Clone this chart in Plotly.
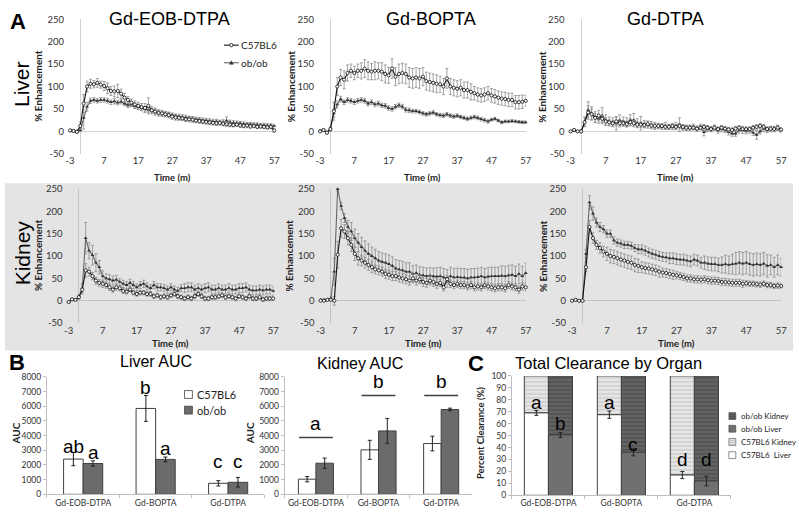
import plotly.graph_objects as go

W, H = 799, 514
def fx(p): return p / W
def fy(p): return 1 - p / H

# ---------------- data ----------------
time_min = list(range(-3, 58))
time_ticks = [-3, 7, 17, 27, 37, 47, 57]
enh_ticks = [-50, 0, 50, 100, 150, 200, 250]
agents = ["Gd-EOB-DTPA", "Gd-BOPTA", "Gd-DTPA"]

# Liver, Gd-EOB-DTPA
liver_eob_c57 = [2, 1, -1, 12, 62, 100, 106, 105, 108, 104,
                 101, 96, 90, 89, 90, 84, 75, 70, 64, 60,
                 57, 54, 52, 57, 47, 44, 41, 40, 38, 36,
                 33, 31, 30, 29, 27, 27, 26, 24, 23, 22,
                 21, 20, 19, 18, 19, 17, 16, 15, 14, 15,
                 13, 12, 13, 11, 12, 10, 11, 10, 9, 10,
                 2]
liver_eob_c57_err = [3, 3, 3, 8, 20, 12, 10, 8, 10, 8,
                     10, 12, 10, 12, 15, 10, 10, 8, 8, 8,
                     8, 8, 10, 18, 8, 8, 7, 7, 6, 6,
                     6, 6, 6, 5, 5, 6, 6, 5, 5, 5,
                     5, 5, 5, 5, 5, 5, 5, 5, 4, 4,
                     4, 4, 5, 4, 4, 4, 4, 4, 4, 4,
                     4]
liver_eob_ob = [1, 1, 0, 3, 30, 55, 68, 70, 68, 70,
                70, 68, 65, 67, 64, 66, 62, 58, 60, 56,
                54, 52, 50, 48, 46, 44, 42, 40, 39, 38,
                36, 34, 33, 32, 31, 29, 28, 27, 26, 25,
                24, 23, 22, 22, 20, 21, 24, 20, 19, 18,
                18, 17, 16, 16, 15, 15, 14, 14, 13, 13,
                12]
liver_eob_ob_err = [2, 2, 2, 4, 25, 10, 6, 5, 5, 5,
                    5, 5, 5, 6, 5, 5, 5, 5, 5, 5,
                    5, 5, 5, 5, 5, 5, 5, 5, 5, 5,
                    5, 5, 5, 5, 5, 5, 5, 5, 5, 5,
                    5, 5, 5, 5, 5, 5, 8, 5, 5, 5,
                    4, 4, 4, 4, 4, 4, 4, 4, 4, 4,
                    4]

# Liver, Gd-BOPTA
liver_bopta_c57 = [0, 3, -3, 5, 45, 100, 120, 115, 130, 135,
                   130, 135, 135, 140, 135, 133, 135, 135, 133, 128,
                   125, 140, 122, 128, 130, 128, 120, 118, 120, 118,
                   122, 112, 110, 108, 106, 105, 100, 118, 100, 97,
                   95, 97, 92, 92, 88, 85, 82, 80, 82, 85,
                   80, 78, 75, 73, 72, 70, 70, 65, 65, 66,
                   68]
liver_bopta_c57_err = [3, 3, 3, 5, 20, 20, 18, 20, 18, 15,
                       15, 15, 18, 20, 20, 18, 20, 18, 20, 20,
                       18, 22, 20, 22, 22, 22, 22, 22, 22, 22,
                       20, 20, 20, 20, 20, 18, 18, 22, 18, 18,
                       18, 18, 18, 18, 18, 15, 15, 15, 15, 15,
                       15, 15, 15, 15, 15, 15, 15, 15, 15, 15,
                       12]
liver_bopta_ob = [2, 2, -2, 5, 40, 60, 72, 65, 70, 68,
                  65, 68, 70, 68, 62, 65, 60, 62, 58, 57,
                  52, 50, 55, 58, 55, 48, 47, 45, 45, 43,
                  40, 38, 40, 42, 38, 36, 35, 38, 35, 33,
                  35, 32, 30, 28, 30, 32, 30, 27, 25, 22,
                  26, 28, 24, 20, 22, 22, 23, 22, 21, 20,
                  20]
liver_bopta_ob_err = [2, 2, 2, 3, 8, 8, 6, 5, 5, 5,
                      5, 5, 5, 5, 5, 5, 5, 5, 5, 5,
                      5, 5, 5, 5, 5, 5, 5, 4, 4, 4,
                      4, 4, 4, 4, 4, 4, 4, 4, 4, 4,
                      4, 4, 4, 4, 4, 4, 4, 4, 4, 4,
                      3, 3, 3, 3, 3, 3, 3, 3, 3, 3,
                      3]

# Liver, Gd-DTPA
liver_dtpa_c57 = [0, 3, 0, 0, 20, 42, 38, 30, 35, 28,
                  22, 20, 18, 22, 18, 18, 16, 20, 18, 15,
                  15, 14, 16, 13, 12, 12, 12, 10, 10, 12,
                  10, 12, 10, 8, 8, 8, 6, 8, 10, 8,
                  5, 8, 5, 8, 6, 4, 3, 6, 8, 5,
                  5, 5, 8, 10, 12, 10, 5, 6, 5, 8,
                  4]
liver_dtpa_c57_err = [2, 2, 2, 3, 10, 15, 12, 10, 12, 8,
                      8, 6, 6, 10, 8, 6, 6, 8, 6, 6,
                      6, 6, 6, 5, 5, 5, 5, 5, 5, 5,
                      5, 5, 5, 5, 5, 5, 5, 5, 5, 5,
                      5, 5, 5, 5, 5, 5, 5, 5, 5, 5,
                      5, 5, 5, 5, 5, 5, 5, 5, 5, 5,
                      4]
liver_dtpa_ob = [0, 2, 0, 0, 22, 48, 40, 32, 28, 35,
                 25, 22, 20, 18, 25, 22, 20, 25, 25, 18,
                 18, 16, 15, 14, 12, 12, 10, 12, 10, 10,
                 12, 15, 8, 8, 8, 10, 6, 10, -2, 5,
                 5, 8, 2, 5, 3, -2, -5, -5, 2, 3,
                 0, 2, -3, -8, 0, 5, 3, 5, 5, 8,
                 2]
liver_dtpa_ob_err = [2, 2, 2, 3, 10, 18, 15, 12, 10, 18,
                     12, 10, 10, 15, 12, 10, 10, 12, 15, 10,
                     15, 8, 8, 8, 8, 6, 6, 8, 6, 6,
                     8, 15, 6, 6, 6, 6, 6, 6, 8, 6,
                     6, 6, 6, 6, 6, 6, 6, 6, 6, 8,
                     6, 6, 6, 10, 6, 6, 6, 6, 6, 6,
                     5]

# Kidney, Gd-EOB-DTPA
kidney_eob_c57 = [-3, 3, 2, 8, 25, 68, 65, 55, 45, 40,
                  38, 35, 30, 25, 30, 28, 22, 20, 25, 18,
                  15, 18, 18, 15, 15, 10, 12, 8, 10, 8,
                  12, 15, 10, 8, 5, 8, 5, 10, 15, 10,
                  5, 5, 8, 8, 10, 12, 8, 10, 8, 5,
                  10, 8, 5, 10, 5, 5, 8, 3, 5, 5,
                  5]
kidney_eob_c57_err = [2, 2, 2, 4, 10, 15, 10, 8, 8, 8,
                      8, 7, 7, 6, 6, 6, 6, 5, 5, 5,
                      5, 5, 5, 5, 5, 5, 5, 5, 5, 5,
                      5, 5, 5, 5, 5, 5, 5, 5, 5, 5,
                      5, 5, 5, 5, 5, 5, 5, 5, 5, 5,
                      5, 5, 5, 5, 5, 5, 5, 5, 5, 5,
                      5]
kidney_eob_ob = [-3, 3, 2, 8, 28, 140, 112, 102, 85, 75,
                 55, 50, 48, 45, 47, 42, 38, 35, 40, 35,
                 30, 35, 38, 32, 28, 35, 30, 30, 28, 25,
                 30, 25, 22, 28, 28, 30, 30, 25, 28, 25,
                 28, 30, 25, 25, 28, 25, 25, 28, 25, 25,
                 28, 28, 30, 25, 23, 23, 25, 23, 25, 25,
                 22]
kidney_eob_ob_err = [2, 2, 2, 4, 10, 35, 18, 22, 20, 15,
                     12, 10, 10, 10, 10, 8, 8, 8, 8, 8,
                     8, 8, 8, 8, 8, 8, 8, 8, 8, 8,
                     8, 8, 8, 8, 10, 10, 10, 10, 10, 10,
                     10, 10, 10, 10, 10, 10, 10, 10, 10, 10,
                     10, 10, 10, 10, 10, 10, 10, 10, 10, 10,
                     10]

# Kidney, Gd-BOPTA
kidney_bopta_c57 = [0, 0, 2, 2, 0, 103, 162, 155, 140, 125,
                    105, 95, 90, 85, 80, 75, 70, 68, 65, 60,
                    58, 55, 55, 52, 50, 48, 45, 50, 45, 48,
                    42, 40, 45, 42, 38, 40, 30, 48, 38, 35,
                    38, 35, 35, 32, 35, 30, 32, 30, 35, 32,
                    30, 28, 30, 30, 28, 35, 32, 30, 25, 32,
                    30]
kidney_bopta_c57_err = [2, 2, 2, 2, 10, 30, 20, 15, 15, 15,
                        15, 15, 12, 12, 12, 12, 10, 10, 10, 10,
                        10, 10, 10, 10, 10, 10, 10, 10, 10, 10,
                        10, 10, 10, 10, 10, 8, 8, 8, 8, 8,
                        8, 8, 8, 8, 8, 8, 8, 8, 8, 8,
                        8, 8, 8, 8, 8, 8, 8, 8, 8, 8,
                        8]
kidney_bopta_ob = [2, 2, 3, 5, 65, 250, 212, 185, 165, 155,
                   140, 130, 120, 112, 105, 100, 95, 90, 87, 85,
                   82, 78, 72, 70, 68, 65, 65, 60, 62, 58,
                   57, 55, 56, 55, 54, 55, 52, 50, 55, 52,
                   53, 52, 52, 50, 52, 52, 53, 55, 52, 54,
                   55, 55, 55, 56, 55, 57, 58, 55, 60, 55,
                   62]
kidney_bopta_ob_err = [2, 2, 2, 3, 30, 5, 8, 10, 15, 20,
                       20, 20, 22, 22, 22, 20, 20, 20, 20, 20,
                       20, 20, 20, 20, 20, 20, 20, 18, 18, 18,
                       18, 18, 18, 18, 20, 20, 20, 20, 20, 20,
                       20, 20, 20, 20, 20, 20, 20, 20, 20, 20,
                       20, 20, 20, 22, 22, 22, 22, 22, 22, 22,
                       22]

# Kidney, Gd-DTPA
kidney_dtpa_c57 = [0, 2, 0, 0, 75, 165, 140, 125, 118, 110,
                   105, 100, 98, 95, 92, 90, 87, 85, 80, 78,
                   75, 73, 72, 70, 68, 65, 63, 62, 60, 58,
                   57, 55, 53, 50, 50, 48, 48, 47, 48, 46,
                   45, 45, 44, 42, 42, 41, 40, 40, 40, 38,
                   39, 38, 38, 37, 36, 38, 35, 35, 33, 34,
                   33]
kidney_dtpa_c57_err = [2, 2, 2, 2, 10, 15, 12, 10, 12, 12,
                       15, 15, 15, 15, 15, 15, 15, 15, 15, 15,
                       12, 12, 12, 12, 12, 12, 10, 10, 10, 10,
                       8, 8, 8, 8, 8, 8, 8, 8, 8, 8,
                       8, 8, 8, 8, 8, 8, 8, 8, 8, 8,
                       6, 6, 6, 6, 6, 6, 6, 6, 6, 6,
                       6]
kidney_dtpa_ob = [0, 2, 0, 0, 105, 220, 195, 175, 165, 160,
                  150, 150, 135, 130, 128, 125, 125, 123, 118, 115,
                  115, 112, 108, 105, 103, 100, 98, 97, 95, 95,
                  93, 92, 92, 90, 88, 92, 90, 85, 85, 83,
                  82, 82, 80, 80, 82, 80, 82, 83, 85, 83,
                  85, 82, 80, 82, 80, 83, 78, 80, 75, 80,
                  75]
kidney_dtpa_ob_err = [2, 2, 2, 2, 10, 15, 15, 10, 10, 8,
                      8, 8, 8, 8, 8, 8, 8, 8, 8, 10,
                      10, 10, 10, 10, 10, 10, 10, 10, 12, 12,
                      12, 12, 12, 12, 12, 12, 12, 12, 15, 15,
                      15, 15, 15, 18, 20, 20, 22, 25, 25, 25,
                      25, 25, 25, 25, 25, 25, 25, 22, 22, 22,
                      20]

# B: AUC
liver_auc_c57 = [2400, 5850, 750]
liver_auc_c57_err = [450, 880, 180]
liver_auc_ob = [2100, 2380, 820]
liver_auc_ob_err = [180, 160, 330]
liver_auc_letters_c57 = ["ab", "b", "c"]
liver_auc_letters_ob = ["a", "a", "c"]
liver_auc_letter_y_c57 = [3280, 7250, 2250]
liver_auc_letter_y_ob = [2830, 3150, 2250]

kidney_auc_c57 = [1030, 3030, 3460]
kidney_auc_c57_err = [180, 650, 500]
kidney_auc_ob = [2120, 4320, 5780]
kidney_auc_ob_err = [350, 850, 90]
kidney_auc_letters = ["a", "b", "b"]
kidney_auc_line_y = [3870, 6730, 6730]
kidney_auc_letter_y = [4820, 7700, 7700]

# C: total clearance (%)
c57_liver_pct = [69, 67.5, 17]
c57_liver_pct_err = [2, 3, 3]
c57_kidney_pct = [31, 32.5, 83]
ob_liver_pct = [50.5, 36, 12]
ob_liver_pct_err = [2, 3, 4]
ob_kidney_pct = [49.5, 64, 88]
clear_letters_c57 = ["a", "a", "d"]
clear_letters_ob = ["b", "c", "d"]
clear_letter_y_c57 = [78, 78, 30]
clear_letter_y_ob = [60, 42.5, 30]

# ---------------- figure ----------------
TICKF = "Lato, 'Open Sans', sans-serif"
ARIAL = "'Liberation Sans', Arial, sans-serif"

C57_LINE = "#111111"
OB_LINE = "#666666"
OB_MARK = "#333333"
ERR_TS = "#8c8c8c"
BAR_EDGE = "#404040"
OB_BAR = "#6b6b6b"
C57_KID_BG, C57_KID_FG = "#e6e6e6", "#bdbdbd"
OB_KID_BG, OB_KID_FG = "#636363", "#474747"
OB_LIV = "#707070"

fig = go.Figure()

ts_panels = [
    (1, liver_eob_c57, liver_eob_c57_err, liver_eob_ob, liver_eob_ob_err),
    (2, liver_bopta_c57, liver_bopta_c57_err, liver_bopta_ob, liver_bopta_ob_err),
    (3, liver_dtpa_c57, liver_dtpa_c57_err, liver_dtpa_ob, liver_dtpa_ob_err),
    (4, kidney_eob_c57, kidney_eob_c57_err, kidney_eob_ob, kidney_eob_ob_err),
    (5, kidney_bopta_c57, kidney_bopta_c57_err, kidney_bopta_ob, kidney_bopta_ob_err),
    (6, kidney_dtpa_c57, kidney_dtpa_c57_err, kidney_dtpa_ob, kidney_dtpa_ob_err),
]

def ax(i):
    return ("x" if i == 1 else f"x{i}"), ("y" if i == 1 else f"y{i}")

for i, c57, c57e, ob, obe in ts_panels:
    xa, ya = ax(i)
    fig.add_trace(go.Scatter(
        x=time_min, y=ob, xaxis=xa, yaxis=ya, name="ob/ob",
        mode="lines+markers", showlegend=False,
        line=dict(color=OB_LINE, width=1.1),
        marker=dict(symbol="triangle-up", size=3.5, color=OB_MARK),
        error_y=dict(type="data", array=obe, color=ERR_TS, thickness=0.8, width=1.5),
        cliponaxis=False))
    fig.add_trace(go.Scatter(
        x=time_min, y=c57, xaxis=xa, yaxis=ya, name="C57BL6",
        mode="lines+markers", showlegend=False,
        line=dict(color=C57_LINE, width=1.1),
        marker=dict(symbol="circle", size=3.2, color="white",
                    line=dict(color=C57_LINE, width=0.8)),
        error_y=dict(type="data", array=c57e, color=ERR_TS, thickness=0.8, width=1.5),
        cliponaxis=False))

err_b = dict(type="data", color="#222", thickness=1, width=2)
# B liver AUC
fig.add_trace(go.Bar(x=agents, y=liver_auc_c57, name="C57BL6", xaxis="x7", yaxis="y7",
                     offset=-0.27, width=0.27, showlegend=False,
                     marker=dict(color="white", line=dict(color=BAR_EDGE, width=1)),
                     error_y=dict(array=liver_auc_c57_err, **err_b)))
fig.add_trace(go.Bar(x=agents, y=liver_auc_ob, name="ob/ob", xaxis="x7", yaxis="y7",
                     offset=0, width=0.27, showlegend=False,
                     marker=dict(color=OB_BAR, line=dict(color=BAR_EDGE, width=1)),
                     error_y=dict(array=liver_auc_ob_err, **err_b)))
# B kidney AUC
fig.add_trace(go.Bar(x=agents, y=kidney_auc_c57, name="C57BL6", xaxis="x8", yaxis="y8",
                     offset=-0.28, width=0.28, showlegend=False,
                     marker=dict(color="white", line=dict(color=BAR_EDGE, width=1)),
                     error_y=dict(array=kidney_auc_c57_err, **err_b)))
fig.add_trace(go.Bar(x=agents, y=kidney_auc_ob, name="ob/ob", xaxis="x8", yaxis="y8",
                     offset=0, width=0.28, showlegend=False,
                     marker=dict(color=OB_BAR, line=dict(color=BAR_EDGE, width=1)),
                     error_y=dict(array=kidney_auc_ob_err, **err_b)))

# C total clearance
fig.add_trace(go.Bar(x=agents, y=c57_kidney_pct, base=c57_liver_pct, name="C57BL6 Kidney",
                     xaxis="x9", yaxis="y9", offset=-0.33, width=0.33, showlegend=False,
                     marker=dict(color=C57_KID_BG, line=dict(color=BAR_EDGE, width=1),
                                 pattern=dict(shape="-", bgcolor=C57_KID_BG, fgcolor=C57_KID_FG,
                                              size=4, solidity=0.45))))
fig.add_trace(go.Bar(x=agents, y=ob_kidney_pct, base=ob_liver_pct, name="ob/ob Kidney",
                     xaxis="x9", yaxis="y9", offset=0, width=0.33, showlegend=False,
                     marker=dict(color=OB_KID_BG, line=dict(color=BAR_EDGE, width=1),
                                 pattern=dict(shape="-", bgcolor=OB_KID_BG, fgcolor=OB_KID_FG,
                                              size=4, solidity=0.45))))
fig.add_trace(go.Bar(x=agents, y=c57_liver_pct, name="C57BL6  Liver", xaxis="x9", yaxis="y9",
                     offset=-0.33, width=0.33, showlegend=False,
                     marker=dict(color="white", line=dict(color=BAR_EDGE, width=1)),
                     error_y=dict(array=c57_liver_pct_err, **err_b)))
fig.add_trace(go.Bar(x=agents, y=ob_liver_pct, name="ob/ob Liver", xaxis="x9", yaxis="y9",
                     offset=0, width=0.33, showlegend=False,
                     marker=dict(color=OB_LIV, line=dict(color=BAR_EDGE, width=1)),
                     error_y=dict(array=ob_liver_pct_err, **err_b)))

# ---------------- axes ----------------
liver_y = [fy(151), fy(13.5)]
kidney_y = [fy(324), fy(187)]
xdoms = {1: (66, 273), 2: (319.5, 528), 3: (573.5, 787),
         4: (64.5, 272), 5: (320, 528), 6: (575, 787)}

lay = dict(width=W, height=H, autosize=False,
           margin=dict(l=0, r=0, t=0, b=0),
           paper_bgcolor="white", plot_bgcolor="rgba(0,0,0,0)",
           barmode="overlay", showlegend=False, font=dict(family=TICKF, color="#222"))

for i in range(1, 7):
    xn = "xaxis" if i == 1 else f"xaxis{i}"
    yn = "yaxis" if i == 1 else f"yaxis{i}"
    zc = "#d0d0d0" if i <= 3 else "#c2c2c2"
    lay[xn] = dict(domain=[fx(xdoms[i][0]), fx(xdoms[i][1])], range=[-3, 57],
                   anchor=("y" if i == 1 else f"y{i}"), tickmode="array",
                   tickvals=time_ticks, ticktext=[str(v) for v in time_ticks],
                   showgrid=False, zeroline=True, zerolinecolor=zc, zerolinewidth=1,
                   showline=False, ticks="", tickfont=dict(size=9.5, family=TICKF, color="#333"))
    lay[yn] = dict(domain=liver_y if i <= 3 else kidney_y, range=[-50, 250],
                   anchor=("x" if i == 1 else f"x{i}"), tickmode="array",
                   tickvals=enh_ticks, ticktext=[str(v) for v in enh_ticks],
                   showgrid=False, zeroline=True, zerolinecolor=zc, zerolinewidth=1,
                   showline=False, ticks="", ticklabelstandoff=5,
                   tickfont=dict(size=9.5, family=TICKF, color="#333"))

bot_common_x = dict(showgrid=False, showline=True, linecolor="#bfbfbf", ticks="outside",
                    ticklen=3, tickcolor="#bfbfbf", tickson="boundaries", tickangle=0,
                    range=[-0.5, 2.5], type="category",
                    tickfont=dict(size=8.5, family=TICKF, color="#333"))
bot_common_y = dict(showgrid=False, showline=True, linecolor="#bfbfbf", ticks="outside",
                    ticklen=3, tickcolor="#bfbfbf", zeroline=False,
                    tickfont=dict(size=8.5, family=TICKF, color="#333"))
lay["xaxis7"] = dict(domain=[fx(42.5), fx(263)], anchor="y7", **bot_common_x)
lay["yaxis7"] = dict(domain=[fy(499), fy(379)], range=[0, 8000], dtick=1000, anchor="x7", **bot_common_y)
lay["xaxis8"] = dict(domain=[fx(283.5), fx(474)], anchor="y8", **bot_common_x)
lay["yaxis8"] = dict(domain=[fy(499), fy(379)], range=[0, 8000], dtick=1000, anchor="x8", **bot_common_y)
lay["xaxis9"] = dict(domain=[fx(514), fx(736)], anchor="y9", **bot_common_x)
lay["yaxis9"] = dict(domain=[fy(500), fy(378)], range=[0, 100], dtick=10, anchor="x9", **bot_common_y)

fig.update_layout(**lay)

# ---------------- shapes ----------------
fig.add_shape(type="rect", xref="paper", yref="paper", x0=0, x1=1, y0=fy(352), y1=fy(181),
              fillcolor="#e4e4e4", line=dict(width=0), layer="below")
for k in range(3):
    fig.add_shape(type="line", xref="x8", yref="y8", x0=k - 0.27, x1=k + 0.27,
                  y0=kidney_auc_line_y[k], y1=kidney_auc_line_y[k],
                  line=dict(color=BAR_EDGE, width=1.5))

def prect(x0, y0, x1, y1, fill, edge=None, ew=0.8):
    fig.add_shape(type="rect", xref="paper", yref="paper", x0=fx(x0), x1=fx(x1),
                  y0=fy(y1), y1=fy(y0), fillcolor=fill,
                  line=dict(color=edge or fill, width=ew if edge else 0))

def pline(x0, y0, x1, y1, color, width):
    fig.add_shape(type="line", xref="paper", yref="paper", x0=fx(x0), x1=fx(x1),
                  y0=fy(y0), y1=fy(y1), line=dict(color=color, width=width))

# ---------------- annotations ----------------
def ann(text, x, y, size, family=ARIAL, bold=False, angle=0, color="black",
        xref="paper", yref="paper", xshift=0, xanchor="center"):
    t = f"<b>{text}</b>" if bold else text
    fig.add_annotation(text=t, x=x, y=y, xref=xref, yref=yref, showarrow=False,
                       textangle=angle, xanchor=xanchor, yanchor="middle", xshift=xshift,
                       font=dict(size=size, family=family, color=color))

# legend A (manual)
pline(222, 40, 237, 40, C57_LINE, 1.1)
fig.add_shape(type="circle", xref="paper", yref="paper", x0=fx(227.8), x1=fx(231.2),
              y0=fy(41.7), y1=fy(38.3), fillcolor="white", line=dict(color=C57_LINE, width=0.8))
ann("C57BL6", fx(237.5), fy(40), 10, family=TICKF, xanchor="left", color="#222")
pline(222, 58, 237, 58, OB_LINE, 1.1)
fig.add_shape(type="path", xref="paper", yref="paper",
              path=f"M {fx(229.5)},{fy(56)} L {fx(231.5)},{fy(59.5)} L {fx(227.5)},{fy(59.5)} Z",
              fillcolor=OB_MARK, line=dict(color=OB_MARK, width=0.5))
ann("ob/ob", fx(237.5), fy(58), 10, family=TICKF, xanchor="left", color="#222")

# legend B (manual)
prect(182, 393, 190, 401, "white", BAR_EDGE)
ann("C57BL6", fx(192.5), fy(397), 11, family=TICKF, xanchor="left", color="#222")
prect(182, 409, 190, 417, OB_BAR, BAR_EDGE)
ann("ob/ob", fx(192.5), fy(413), 11, family=TICKF, xanchor="left", color="#222")

# legend C (manual)
leg_c = [("ob/ob Kidney", 419, OB_KID_BG, OB_KID_FG),
         ("ob/ob Liver", 432, OB_LIV, None),
         ("C57BL6 Kidney", 445.5, C57_KID_BG, C57_KID_FG),
         ("C57BL6  Liver", 459, "white", None)]
for label, yc, bg, fg in leg_c:
    prect(734, yc - 3.5, 741, yc + 3.5, bg, BAR_EDGE, 0.6)
    if fg:
        for dy in (-1.5, 0.5, 2.5):
            pline(734.5, yc + dy, 740.5, yc + dy, fg, 0.8)
    ann(label, fx(744), fy(yc), 8, family=TICKF, xanchor="left", color="#222")

ann("A", fx(13), fy(16), 22, bold=True)
ann("B", fx(12), fy(364), 22, bold=True)
ann("C", fx(478), fy(365), 22, bold=True)
ann("Gd-EOB-DTPA", fx(167), fy(13), 18)
ann("Gd-BOPTA", fx(432), fy(13), 18)
ann("Gd-DTPA", fx(670), fy(13), 18)
ann("Liver", fx(17), fy(80), 21, angle=-90)
ann("Kidney", fx(18), fy(252), 21, angle=-90)
for xp in (34, 290, 545):
    ann("% Enhancement", fx(xp), fy(82), 10, family=TICKF, bold=True, angle=-90, color="#222")
for xp in (33, 288, 545):
    ann("% Enhancement", fx(xp), fy(255), 10, family=TICKF, bold=True, angle=-90, color="#222")
for i in range(1, 7):
    x0, x1 = xdoms[i]
    ann("Time (m)", fx((x0 + x1) / 2), fy(175 if i <= 3 else 345), 9.5, family=TICKF, bold=True, color="#222")

ann("Liver AUC", fx(153), fy(363), 16)
ann("Kidney AUC", fx(360), fy(365), 16)
ann("Total Clearance by Organ", fx(612), fy(365), 16.5)
ann("AUC", fx(11), fy(437), 10, family=TICKF, bold=True, angle=-90, color="#222")
ann("AUC", fx(248), fy(437), 10, family=TICKF, bold=True, angle=-90, color="#222")
ann("Percent Clearance (%)", fx(482), fy(436), 9.5, family=TICKF, bold=True, angle=-90, color="#222")

for k in range(3):
    ann(liver_auc_letters_c57[k], k, liver_auc_letter_y_c57[k], 19, xref="x7", yref="y7", xshift=-10)
    ann(liver_auc_letters_ob[k], k, liver_auc_letter_y_ob[k], 19, xref="x7", yref="y7", xshift=10)
    ann(kidney_auc_letters[k], k, kidney_auc_letter_y[k], 19, xref="x8", yref="y8")
    ann(clear_letters_c57[k], k, clear_letter_y_c57[k], 19, xref="x9", yref="y9", xshift=-12)
    ann(clear_letters_ob[k], k, clear_letter_y_ob[k], 19, xref="x9", yref="y9", xshift=12)

fig.write_html("out.html",
               config={"displayModeBar": False, "staticPlot": True},
               post_script="document.body.style.margin='0';document.body.style.padding='0';"
                           "document.documentElement.style.overflow='hidden';")
